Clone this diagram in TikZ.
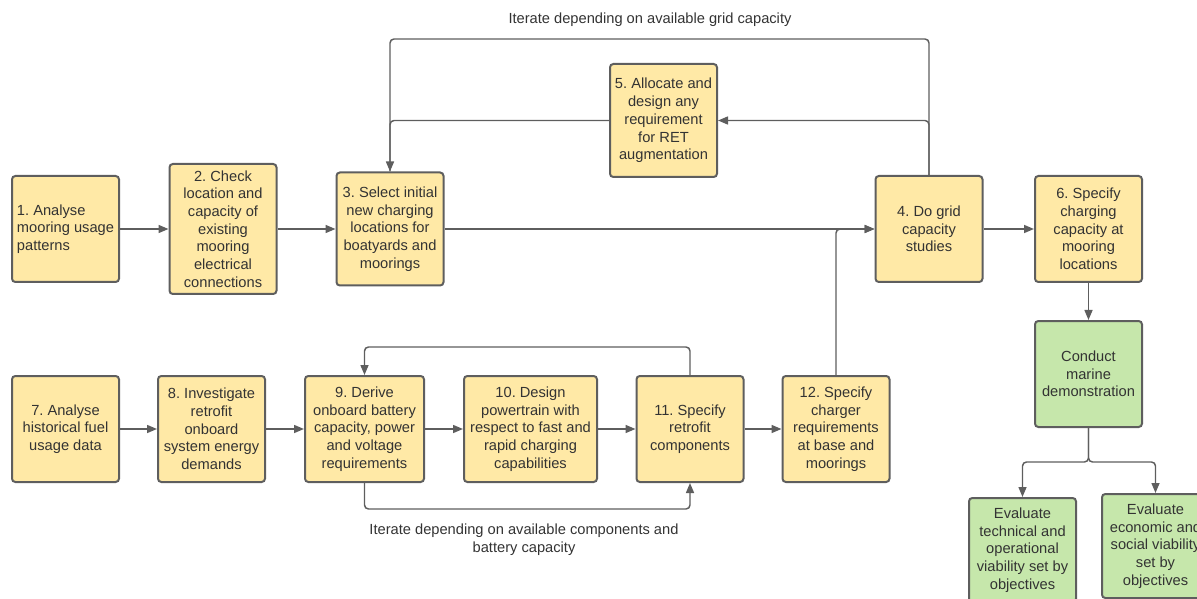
\documentclass[tikz,border=0pt]{standalone}
\usepackage{fontspec}
\setmainfont{Liberation Sans}
\usetikzlibrary{arrows.meta}
\definecolor{boxyellow}{HTML}{FFE9A6}
\definecolor{boxgreen}{HTML}{C6E7AB}
\definecolor{edgegrey}{HTML}{5E5E5E}
\definecolor{textgrey}{HTML}{333333}
\frenchspacing

\begin{document}
\begin{tikzpicture}[x=0.75pt, y=-0.75pt,
    every node/.style={font=\fontsize{11}{13.3}\selectfont, text=textgrey},
    stage/.style={draw=edgegrey, line width=1.5pt, fill=boxyellow, rounded corners=2.5pt,
        align=center, inner sep=1pt, minimum width=80.25pt, minimum height=79.5pt},
    demo/.style={stage, fill=boxgreen},
    flow/.style={draw=edgegrey, line width=1.1pt, rounded corners=3pt,
        -{Triangle[length=7.5pt, width=6pt]}},
    plainlink/.style={draw=edgegrey, line width=1.1pt, rounded corners=3pt}]

    % Frame
    \useasboundingbox (0,0) rectangle (1197,599);
    \clip (0,0) rectangle (1197,599);

    % Top row
    \node[stage, align=left] (s1) at (65.5,229) {1. Analyse\\mooring usage\\patterns};
    \node[stage, minimum height=97.5pt] (s2) at (223,229) {2. Check\\location and\\capacity of\\existing\\mooring\\electrical\\connections};
    \node[stage, minimum height=84.75pt] (s3) at (390,229) {3. Select initial\\new charging\\locations for\\boatyards and\\moorings};
    \node[stage, minimum height=84.75pt] (s5) at (663.5,120.5) {5. Allocate and\\design any\\requirement\\for RET\\augmentation};
    \node[stage] (s4) at (929,229) {4. Do grid\\capacity\\studies};
    \node[stage] (s6) at (1088.5,229) {6. Specify\\charging\\capacity at\\mooring\\locations};

    % Bottom row
    \node[stage] (s7) at (65.5,429) {7. Analyse\\historical fuel\\usage data};
    \node[stage] (s8) at (211.5,429) {8. Investigate\\retrofit\\onboard\\system energy\\demands};
    \node[stage, minimum width=89.25pt] (s9) at (364.5,429) {9. Derive\\onboard battery\\capacity, power\\and voltage\\requirements};
    \node[stage, minimum width=99.75pt] (s10) at (530.5,429) {10. Design\\powertrain with\\respect to fast and\\rapid charging\\capabilities};
    \node[stage] (s11) at (690,429) {11. Specify\\retrofit\\components};
    \node[stage] (s12) at (836,429) {12. Specify\\charger\\requirements\\at base and\\moorings};

    % Demonstration
    \node[demo] (d1) at (1088.5,374) {Conduct\\marine\\demonstration};
    \node[demo, minimum height=78pt] (e1) at (1022.5,550) {Evaluate\\technical and\\operational\\viability set by\\objectives};
    \node[demo, minimum height=78pt] (e2) at (1155.5,546) {Evaluate\\economic and\\social viability\\set by\\objectives};

    % Notes
    \node (gridnote) at (650,20) {Iterate depending on available grid capacity};
    \node[align=center] (compnote) at (524,540) {Iterate depending on available components and\\battery capacity};
    \coordinate (gridtop) at (650,39);

    % Top row arrows
    \draw[flow] (s1.east) -- (s2.west);
    \draw[flow] (s2.east) -- (s3.west);
    \draw[flow] (s3.east) -- (s4.west);
    \draw[flow] (s4.east) -- (s6.west);
    \draw[flow] (s4.north) |- (gridtop) -| (s3.north);
    \draw[flow] (s4.north) |- (s5.east);
    \draw[plainlink] (s5.west) -| (s3.north);

    % Bottom row arrows
    \draw[flow] (s7.east) -- (s8.west);
    \draw[flow] (s8.east) -- (s9.west);
    \draw[flow] (s9.east) -- (s10.west);
    \draw[flow] (s10.east) -- (s11.west);
    \draw[flow] (s11.east) -- (s12.west);
    \draw[flow] (s12.north) |- (s4.west);
    \draw[flow] (s11.north) -- ++(0,-28) -| (s9.north);
    \draw[flow] (s9.south) -- ++(0,26) -| (s11.south);

    % Demonstration arrows
    \draw[flow] (s6.south) -- (d1.north);
    \draw[flow] (d1.south) -- ++(0,34) -| (e1.north);
    \draw[flow] (d1.south) -- ++(0,34) -| (e2.north);

\end{tikzpicture}
\end{document}
